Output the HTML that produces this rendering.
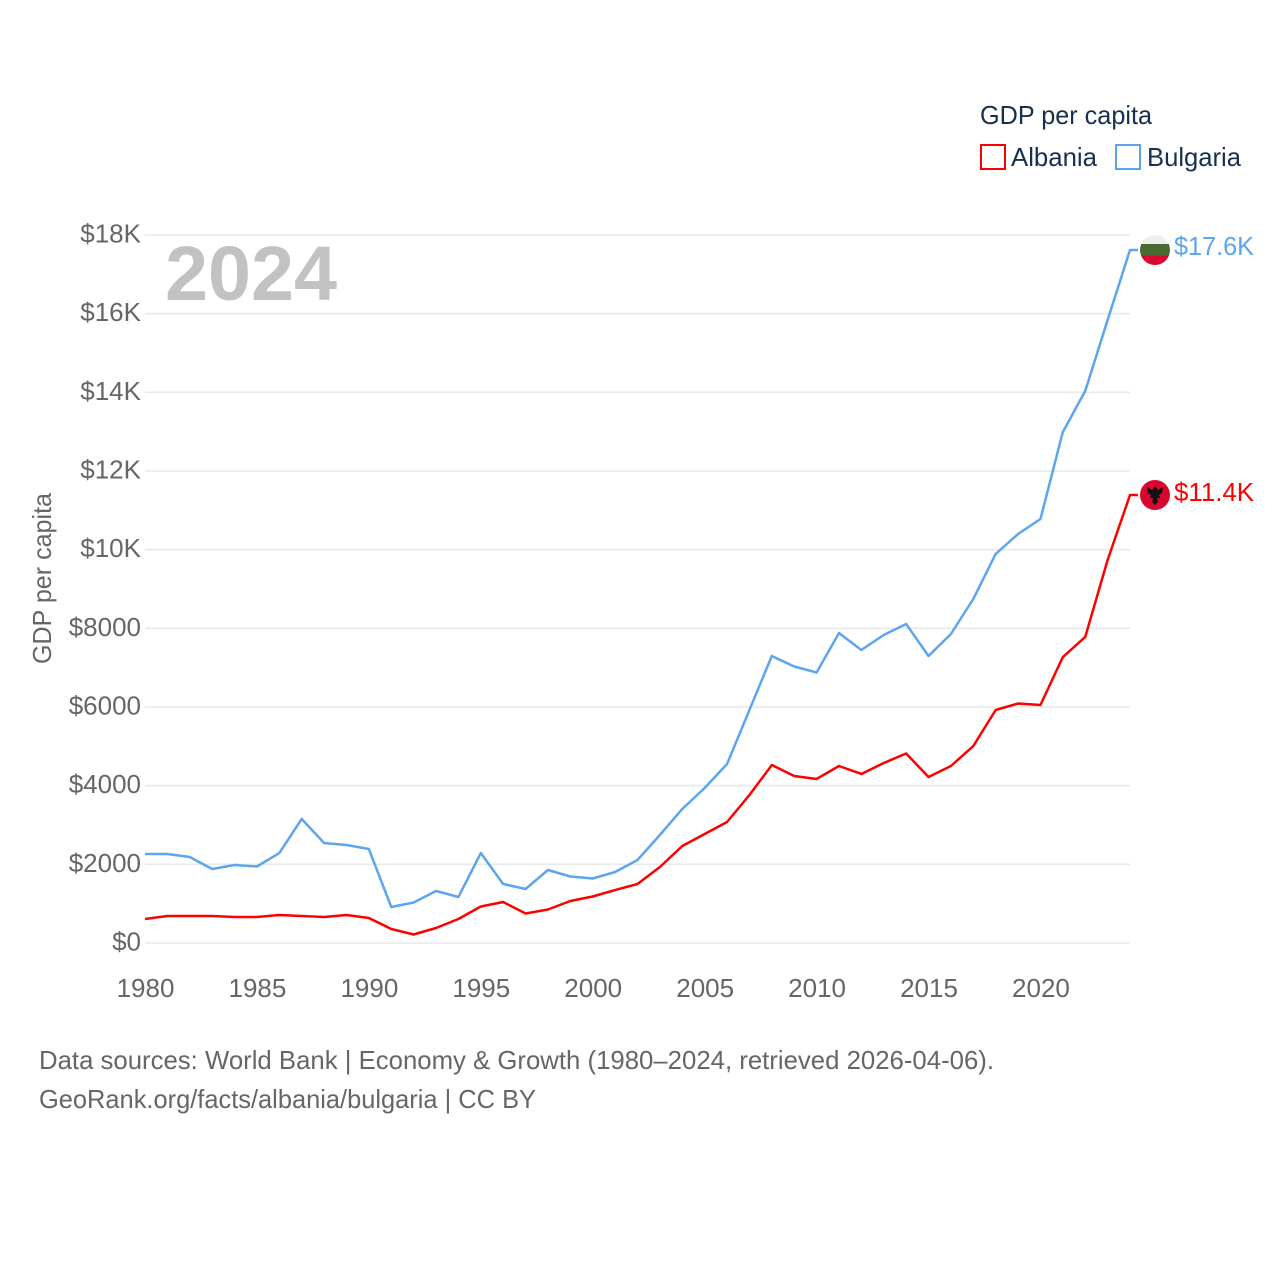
<!DOCTYPE html>
<html lang="en">
<head>
<meta charset="utf-8">
<title>GDP per capita: Albania and Bulgaria</title>
<style>
html,body{margin:0;padding:0;background:#fff;width:1280px;height:1280px;overflow:hidden}
svg{display:block}
text{font-family:"Liberation Sans",sans-serif}
</style>
</head>
<body>
<svg id="chart" xmlns="http://www.w3.org/2000/svg" width="1280" height="1280" viewBox="0 0 1280 1280">
  <rect x="0" y="0" width="1280" height="1280" fill="#fff"/>
  <g id="grid"></g>
  <g id="yticks"></g>
  <g id="xticks"></g>
  <text x="165" y="300" font-size="77" font-weight="700" fill="#c2c2c2" textLength="172" lengthAdjust="spacingAndGlyphs">2024</text>
  <text transform="translate(51,664) rotate(-90)" font-size="26" fill="#666" textLength="171" lengthAdjust="spacingAndGlyphs">GDP per capita</text>
  <g>
    <text x="980" y="124" font-size="26" fill="#17304f" textLength="172" lengthAdjust="spacingAndGlyphs">GDP per capita</text>
    <g>
      <rect x="981" y="145" width="24" height="24" fill="#fff" stroke="#ff0000" stroke-width="2"/>
      <text x="1011" y="166" font-size="26" fill="#17304f" textLength="86" lengthAdjust="spacingAndGlyphs">Albania</text>
    </g>
    <g>
      <rect x="1116" y="145" width="24" height="24" fill="#fff" stroke="#5da5ee" stroke-width="2"/>
      <text x="1147" y="166" font-size="26" fill="#17304f" textLength="94" lengthAdjust="spacingAndGlyphs">Bulgaria</text>
    </g>
  </g>
  <g id="series"></g>
  <g id="endmarks"></g>
  <text x="39" y="1069" font-size="26" fill="#666" textLength="955" lengthAdjust="spacingAndGlyphs">Data sources: World Bank | Economy &amp; Growth (1980–2024, retrieved 2026-04-06).</text>
  <text x="39" y="1108" font-size="26" fill="#666" textLength="497" lengthAdjust="spacingAndGlyphs">GeoRank.org/facts/albania/bulgaria | CC BY</text>
</svg>
<script>
const years = [1980,1981,1982,1983,1984,1985,1986,1987,1988,1989,1990,1991,1992,1993,1994,1995,1996,1997,1998,1999,2000,2001,2002,2003,2004,2005,2006,2007,2008,2009,2010,2011,2012,2013,2014,2015,2016,2017,2018,2019,2020,2021,2022,2023,2024];
const albaniaValues = [610,686,686,686,661,661,712,686,661,712,636,356,216,381,610,928,1042,750,852,1068,1182,1347,1500,1932,2466,2771,3076,3763,4525,4246,4170,4500,4297,4576,4818,4220,4500,5008,5924,6089,6051,7271,7780,9737,11390];
const bulgariaValues = [2263,2263,2186,1881,1983,1945,2288,3153,2542,2492,2390,915,1030,1322,1170,2288,1500,1373,1856,1691,1640,1805,2110,2746,3407,3941,4551,5924,7297,7030,6877,7881,7449,7831,8110,7297,7856,8746,9890,10398,10780,12992,14034,15839,17619];
const yTickValues = [0,2000,4000,6000,8000,10000,12000,14000,16000,18000];
const yTickLabels = ["$0","$2000","$4000","$6000","$8000","$10K","$12K","$14K","$16K","$18K"];
const xTickValues = [1980,1985,1990,1995,2000,2005,2010,2015,2020];

const NS = "http://www.w3.org/2000/svg";
const plot = {left:145,right:1130,top:235,bottom:943};
function xScale(year){
  return plot.left + (year - years[0]) / (years[years.length-1] - years[0]) * (plot.right - plot.left);
}
function yScale(v){
  return plot.bottom - v / yTickValues[yTickValues.length-1] * (plot.bottom - plot.top);
}
function make(tag, parent, attrs){
  const el = document.createElementNS(NS, tag);
  for (const k in attrs) el.setAttribute(k, attrs[k]);
  parent.appendChild(el);
  return el;
}
function fmtK(v){
  return "$" + (v/1000).toFixed(1) + "K";
}

const gridG = document.getElementById("grid");
const yG = document.getElementById("yticks");
yTickValues.forEach(function(v, i){
  const y = yScale(v);
  const line = make("line", gridG, {x1:plot.left, x2:plot.right, y1:y, y2:y, stroke:"#e9e9e9", "stroke-width":1.6});
  
  
  const t = make("text", yG, {x:141, y:y+7.5, "text-anchor":"end", "font-size":26, fill:"#666"});
  t.textContent = yTickLabels[i];
  
  
});

const xG = document.getElementById("xticks");
xTickValues.forEach(function(yr){
  const t = make("text", xG, {x:xScale(yr)+0.5, y:997, "text-anchor":"middle", "font-size":26, fill:"#666"});
  t.textContent = String(yr);
  
  
});

function linePath(values){
  let d = "";
  values.forEach(function(v, i){
    d += (i ? "L" : "M") + xScale(years[i]).toFixed(2) + " " + yScale(v).toFixed(2);
  });
  d += "H" + (plot.right + 8);
  return d;
}
const seriesG = document.getElementById("series");
const bgLine = make("path", seriesG, {d:linePath(bulgariaValues), fill:"none", stroke:"#5da5ee", "stroke-width":2.5, "stroke-linejoin":"round"});


const alLine = make("path", seriesG, {d:linePath(albaniaValues), fill:"none", stroke:"#ff0000", "stroke-width":2.5, "stroke-linejoin":"round"});



const endG = document.getElementById("endmarks");
const defs = make("defs", endG, {});
const clip = make("clipPath", defs, {id:"bgclip"});
const bgY = yScale(bulgariaValues[bulgariaValues.length-1]);
const alY = yScale(albaniaValues[albaniaValues.length-1]);
const flagX = 1155;
make("circle", clip, {cx:flagX, cy:bgY, r:15});

const bgFlag = make("g", endG, {"clip-path":"url(#bgclip)"});


make("rect", bgFlag, {x:flagX-15, y:bgY-16, width:30, height:11, fill:"#eeeeee"});
make("rect", bgFlag, {x:flagX-15, y:bgY-6, width:30, height:11.5, fill:"#4a6a33"});
make("rect", bgFlag, {x:flagX-15, y:bgY+5.5, width:30, height:11, fill:"#d9062f"});

const alFlag = make("g", endG, {});


make("circle", alFlag, {cx:flagX, cy:alY, r:15, fill:"#d9062f"});
make("path", alFlag, {transform:"translate("+flagX+","+alY+")", fill:"#111",
  d:"M-8 -8L-3 -5L-1 -8L1 -8L3 -5L8 -8L7 -2L4 0L5 3L2 3L3 7L0 10L-3 7L-2 3L-5 3L-4 0L-7 -2Z"});

const bgLabel = make("text", endG, {x:1174, y:bgY+5, "font-size":26, fill:"#5da5ee", textLength:80, lengthAdjust:"spacingAndGlyphs"});
bgLabel.textContent = fmtK(bulgariaValues[bulgariaValues.length-1]);


const alLabel = make("text", endG, {x:1174, y:alY+6, "font-size":26, fill:"#ff0000", textLength:80, lengthAdjust:"spacingAndGlyphs"});
alLabel.textContent = fmtK(albaniaValues[albaniaValues.length-1]);


</script>
</body>
</html>
